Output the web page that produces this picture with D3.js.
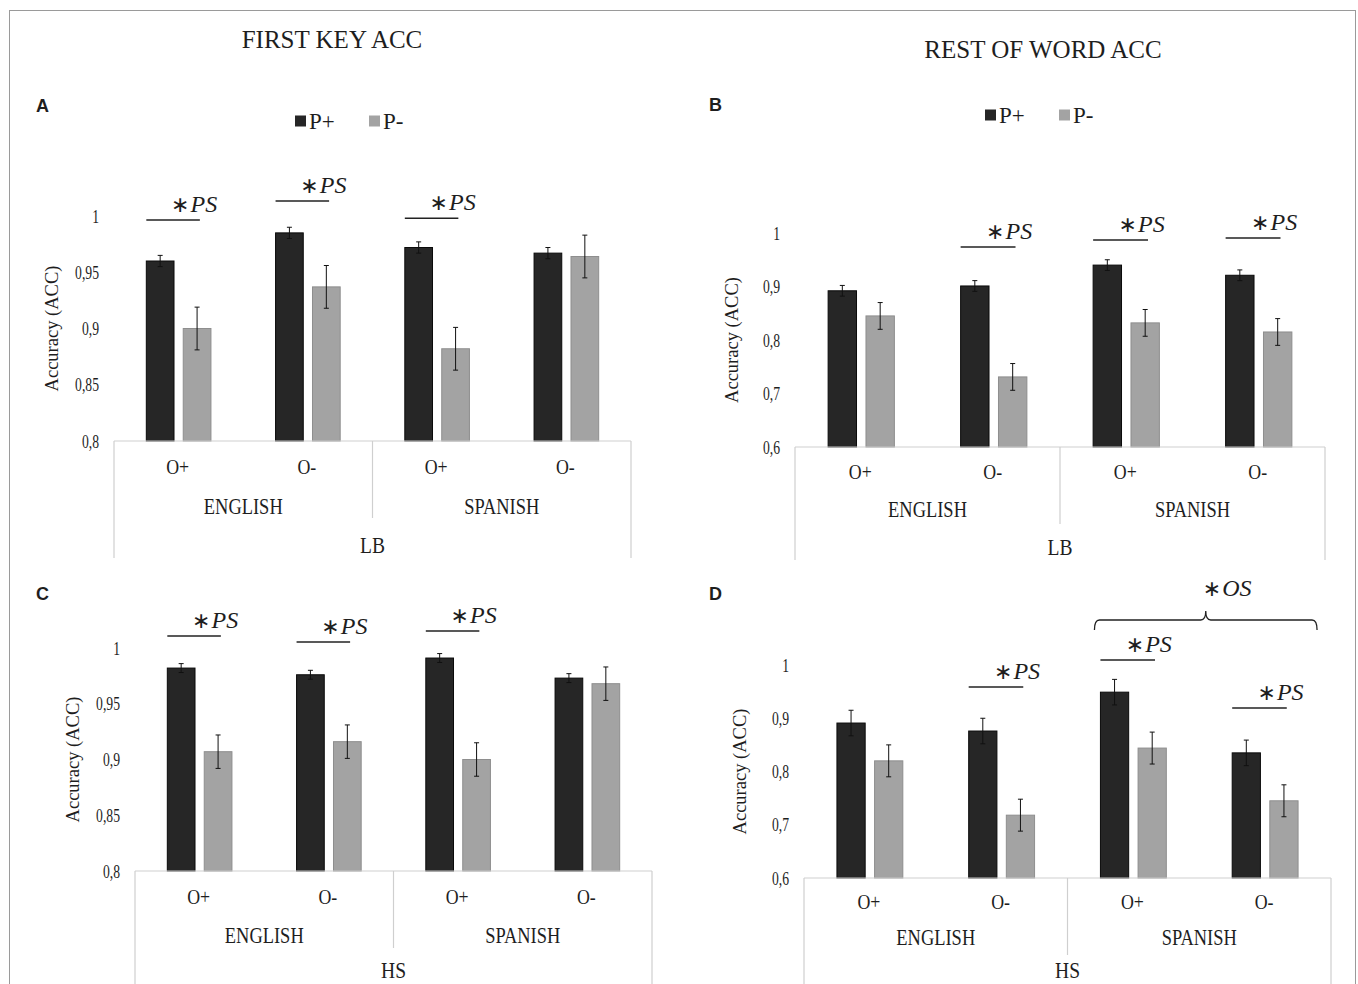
<!DOCTYPE html>
<html>
<head>
<meta charset="utf-8">
<script src="https://cdn.jsdelivr.net/npm/d3@7"></script>
<style>
  body { margin: 0; background: #fff; }
  text { font-family: "Liberation Serif", "Times New Roman", serif; fill: #1e1e1e; }
  .letter { font-family: "Liberation Sans", Arial, sans-serif; font-weight: bold; }
</style>
</head>
<body>
<div id="chart"></div>
<script>

// categories
var orthography = ["O+", "O-", "O+", "O-"];
var languages = ["ENGLISH", "SPANISH"];
var series = ["P+", "P-"];
var ticksFirstKey = [0.8, 0.85, 0.9, 0.95, 1];
var ticksRestWord = [0.6, 0.7, 0.8, 0.9, 1];

// A - first key acc, LB
var firstKeyLB_plus = [0.960, 0.985, 0.972, 0.967];
var firstKeyLB_minus = [0.900, 0.937, 0.882, 0.964];
var firstKeyLB_errPlus = [0.005, 0.005, 0.005, 0.005];
var firstKeyLB_errMinus = [0.019, 0.019, 0.019, 0.019];

// B - rest of word acc, LB
var restWordLB_plus = [0.892, 0.901, 0.940, 0.921];
var restWordLB_minus = [0.845, 0.731, 0.832, 0.815];
var restWordLB_errPlus = [0.010, 0.010, 0.010, 0.010];
var restWordLB_errMinus = [0.025, 0.025, 0.025, 0.025];

// C - first key acc, HS
var firstKeyHS_plus = [0.982, 0.976, 0.991, 0.973];
var firstKeyHS_minus = [0.907, 0.916, 0.900, 0.968];
var firstKeyHS_errPlus = [0.004, 0.004, 0.004, 0.004];
var firstKeyHS_errMinus = [0.015, 0.015, 0.015, 0.015];

// D - rest of word acc, HS
var restWordHS_plus = [0.891, 0.876, 0.949, 0.835];
var restWordHS_minus = [0.820, 0.718, 0.844, 0.745];
var restWordHS_errPlus = [0.024, 0.024, 0.024, 0.024];
var restWordHS_errMinus = [0.030, 0.030, 0.030, 0.030];

// significance marks: group index, level on the y scale, label
var sigA = [{g: 0, v: 0.9964, t: "PS"}, {g: 1, v: 1.0133, t: "PS"}, {g: 2, v: 0.998, t: "PS"}];
var sigB = [{g: 1, v: 0.9738, t: "PS"}, {g: 2, v: 0.987, t: "PS"}, {g: 3, v: 0.9907, t: "PS"}];
var sigC = [{g: 0, v: 1.0108, t: "PS"}, {g: 1, v: 1.0054, t: "PS"}, {g: 2, v: 1.0152, t: "PS"}];
var sigD = [{g: 1, v: 0.9587, t: "PS"}, {g: 2, v: 1.0094, t: "PS"}, {g: 3, v: 0.9192, t: "PS"}];
var braceD = {from: 2, to: 3, v: 1.0845, t: "OS"};

var svg = d3.select("#chart").append("svg")
    .attr("width", 1358)
    .attr("height", 984);

svg.append("rect").attr("width", 1358).attr("height", 984).attr("fill", "#fff");
svg.append("rect")
    .attr("x", 9.5).attr("y", 10.5)
    .attr("width", 1346).attr("height", 1000)
    .attr("fill", "none").attr("stroke", "#9a9a9a");

// column titles
svg.append("text").attr("x", 332).attr("y", 48).attr("text-anchor", "middle")
    .style("font-size", "25px").text("FIRST KEY ACC");
svg.append("text").attr("x", 1043).attr("y", 58).attr("text-anchor", "middle")
    .style("font-size", "25px").text("REST OF WORD ACC");

var panels = [
    {letter: "A", group: "LB", plus: firstKeyLB_plus, minus: firstKeyLB_minus,
     errPlus: firstKeyLB_errPlus, errMinus: firstKeyLB_errMinus, ticks: ticksFirstKey, sig: sigA,
     left: 114, right: 631, base: 441, top: 216, boxBottom: 558, cat: [33, 73, 112],
     letterX: 36, letterY: 112, ylabX: 52, legend: {x: 295, y: 121}},
    {letter: "B", group: "LB", plus: restWordLB_plus, minus: restWordLB_minus,
     errPlus: restWordLB_errPlus, errMinus: restWordLB_errMinus, ticks: ticksRestWord, sig: sigB,
     left: 795, right: 1325, base: 447, top: 233, boxBottom: 560, cat: [32, 70, 108],
     letterX: 709, letterY: 111, ylabX: 732, legend: {x: 985, y: 115}},
    {letter: "C", group: "HS", plus: firstKeyHS_plus, minus: firstKeyHS_minus,
     errPlus: firstKeyHS_errPlus, errMinus: firstKeyHS_errMinus, ticks: ticksFirstKey, sig: sigC,
     left: 135, right: 652, base: 871, top: 648, boxBottom: 1000, cat: [33, 72, 107],
     letterX: 36, letterY: 600, ylabX: 73, legend: null},
    {letter: "D", group: "HS", plus: restWordHS_plus, minus: restWordHS_minus,
     errPlus: restWordHS_errPlus, errMinus: restWordHS_errMinus, ticks: ticksRestWord, sig: sigD,
     left: 804, right: 1331, base: 878, top: 665, boxBottom: 1000, cat: [31, 67, 100],
     letterX: 709, letterY: 600, ylabX: 740, legend: null, brace: braceD}
];

var fmt = function (d) { return String(d).replace(".", ","); };

// condensed serif text, like the source figure
function narrow(g, x, y, txt, size, sx) {
    return g.append("text")
        .attr("transform", "translate(" + x + "," + y + ") scale(" + sx + ",1)")
        .attr("text-anchor", "middle")
        .style("font-size", size + "px")
        .text(txt);
}

function sigLabel(g, x, y, label) {
    var t = g.append("text").attr("x", x).attr("y", y).style("font-size", "24px");
    t.append("tspan").style("font-family", "'DejaVu Sans', sans-serif").style("font-size", "22px").text("\u2217");
    t.append("tspan").attr("dx", 1).style("font-style", "italic").text(label);
    return t;
}

panels.forEach(function (p) {
    var g = svg.append("g").attr("class", "panel");
    var lo = p.ticks[0];

    var y = d3.scaleLinear().domain([lo, 1]).range([p.base, p.top]);
    var x0 = d3.scaleBand().domain(d3.range(4)).range([p.left, p.right])
        .paddingInner(0.5).paddingOuter(0.25);
    var x1 = d3.scaleBand().domain(series).range([0, x0.bandwidth()]).paddingInner(0.25);

    var rows = d3.range(4).map(function (i) {
        return [
            {s: "P+", i: i, v: p.plus[i], e: p.errPlus[i]},
            {s: "P-", i: i, v: p.minus[i], e: p.errMinus[i]}
        ];
    });

    // y axis, labels only
    var ax = g.append("g")
        .attr("transform", "translate(" + (p.left - 15) + ",0)")
        .call(d3.axisLeft(y).tickValues(p.ticks).tickSize(0).tickPadding(0).tickFormat(fmt));
    ax.select(".domain").remove();
    ax.selectAll("text")
        .style("font-size", "19px")
        .style("font-family", "'Liberation Serif', serif")
        .attr("fill", "#1e1e1e")
        .attr("transform", "scale(0.72,1)");

    var mid = (p.top + p.base) / 2;
    g.append("text")
        .attr("transform", "translate(" + p.ylabX + "," + mid + ") rotate(-90)")
        .attr("text-anchor", "middle").attr("dy", "0.35em")
        .style("font-size", "18.5px").attr("fill", "#333")
        .text("Accuracy (ACC)");

    // bars
    var grp = g.selectAll(".grp").data(rows).enter().append("g")
        .attr("class", "grp")
        .attr("transform", function (d, i) { return "translate(" + x0(i) + ",0)"; });

    grp.selectAll("rect").data(function (d) { return d; }).enter().append("rect")
        .attr("x", function (d) { return x1(d.s); })
        .attr("y", function (d) { return y(d.v); })
        .attr("width", x1.bandwidth())
        .attr("height", function (d) { return p.base - y(d.v); })
        .attr("fill", function (d) { return d.s === "P+" ? "#262626" : "#a3a3a3"; })
        .attr("stroke", function (d) { return d.s === "P+" ? "#0a0a0a" : "#8e8e8e"; })
        .attr("stroke-width", 1);

    // error bars
    var eb = grp.selectAll(".err").data(function (d) { return d; }).enter().append("g")
        .attr("class", "err")
        .attr("stroke", "#111").attr("stroke-width", 1);
    eb.append("line")
        .attr("x1", function (d) { return x1(d.s) + x1.bandwidth() / 2; })
        .attr("x2", function (d) { return x1(d.s) + x1.bandwidth() / 2; })
        .attr("y1", function (d) { return y(d.v - d.e); })
        .attr("y2", function (d) { return y(d.v + d.e); });
    [-1, 1].forEach(function (k) {
        eb.append("line")
            .attr("x1", function (d) { return x1(d.s) + x1.bandwidth() / 2 - 2.5; })
            .attr("x2", function (d) { return x1(d.s) + x1.bandwidth() / 2 + 2.5; })
            .attr("y1", function (d) { return y(d.v + k * d.e); })
            .attr("y2", function (d) { return y(d.v + k * d.e); });
    });

    // category box
    var box = g.append("g").attr("stroke", "#cfcfcf").attr("stroke-width", 1.2);
    box.append("line").attr("x1", p.left).attr("x2", p.right).attr("y1", p.base).attr("y2", p.base);
    box.append("line").attr("x1", p.left).attr("x2", p.left).attr("y1", p.base).attr("y2", p.boxBottom);
    box.append("line").attr("x1", p.right).attr("x2", p.right).attr("y1", p.base).attr("y2", p.boxBottom);
    var sepX = (p.left + p.right) / 2;
    box.append("line").attr("x1", sepX).attr("x2", sepX).attr("y1", p.base).attr("y2", p.base + 77);

    orthography.forEach(function (o, i) {
        narrow(g, x0(i) + x0.bandwidth() / 2 - 1, p.base + p.cat[0], o, 21, 0.85);
    });
    languages.forEach(function (l, i) {
        var cx = p.left + (p.right - p.left) * (i * 2 + 1) / 4;
        narrow(g, cx, p.base + p.cat[1], l, 22.5, 0.82);
    });
    narrow(g, sepX, p.base + p.cat[2], p.group, 23, 0.85);

    // significance marks
    p.sig.forEach(function (s) {
        var xa = x0(s.g) + x1("P+");
        var xb = x0(s.g) + x1("P-") + x1.bandwidth() * 0.6;
        var yy = y(s.v);
        g.append("line").attr("x1", xa).attr("x2", xb).attr("y1", yy).attr("y2", yy)
            .attr("stroke", "#222").attr("stroke-width", 1.5);
        sigLabel(g, (xa + xb) / 2 - 2, yy - 8, s.t);
    });

    if (p.brace) {
        var b = p.brace;
        var bx0 = x0(b.from) - 6;
        var bx1 = x0(b.to) + x0.bandwidth() + 19;
        var by = y(b.v);
        var bc = (bx0 + bx1) / 2;
        var path = d3.path();
        path.moveTo(bx0, by + 10);
        path.quadraticCurveTo(bx0, by, bx0 + 5, by);
        path.lineTo(bc - 5, by);
        path.quadraticCurveTo(bc, by, bc, by - 9);
        path.quadraticCurveTo(bc, by, bc + 5, by);
        path.lineTo(bx1 - 5, by);
        path.quadraticCurveTo(bx1, by, bx1, by + 10);
        g.append("path").attr("d", path.toString())
            .attr("fill", "none").attr("stroke", "#222").attr("stroke-width", 1.3);
        sigLabel(g, bc - 3, by - 24, b.t);
    }

    // legend
    if (p.legend) {
        var lg = g.append("g").attr("transform", "translate(" + p.legend.x + "," + p.legend.y + ")");
        var items = lg.selectAll("g").data(series).enter().append("g")
            .attr("transform", function (d, i) { return "translate(" + (i * 74) + ",0)"; });
        items.append("rect").attr("x", 0).attr("y", -5.5).attr("width", 11).attr("height", 11)
            .attr("fill", function (d) { return d === "P+" ? "#262626" : "#a3a3a3"; });
        items.append("text").attr("x", 14).attr("y", 8).style("font-size", "23px")
            .text(function (d) { return d; });
    }

    g.append("text").attr("class", "letter")
        .attr("x", p.letterX).attr("y", p.letterY)
        .style("font-size", "18px").text(p.letter);
});
</script>
</body>
</html>
